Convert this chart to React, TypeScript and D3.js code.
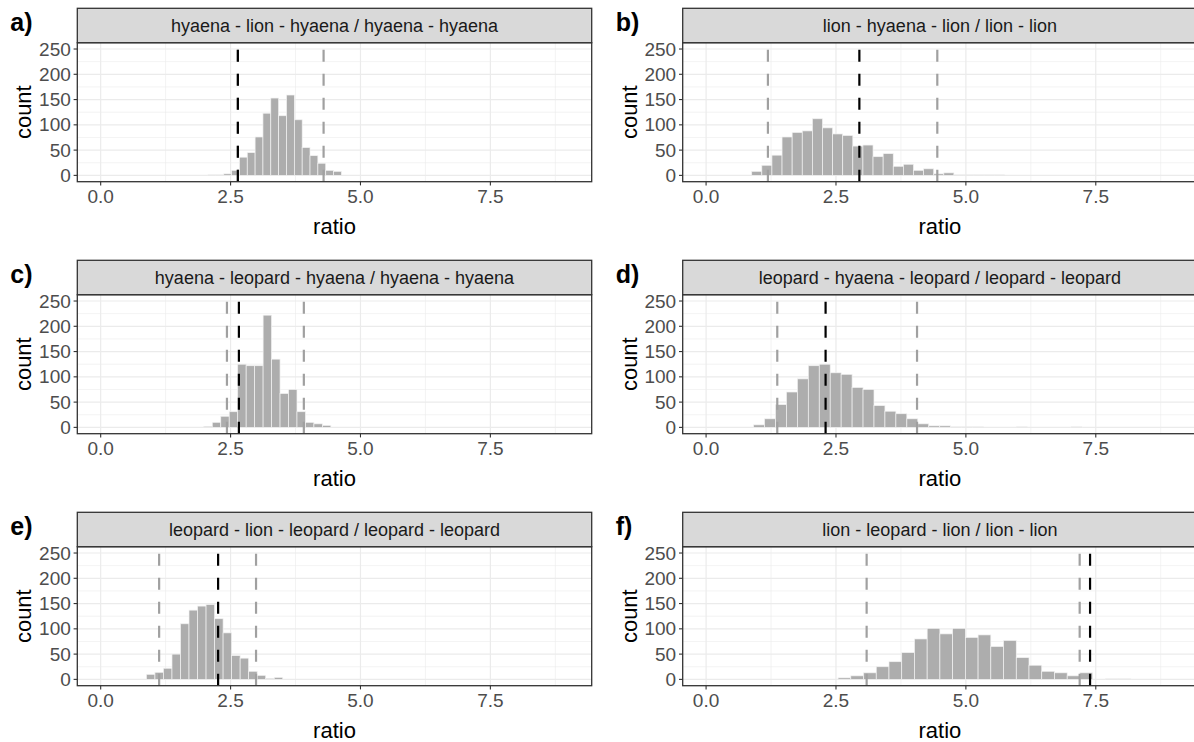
import React from "react";
import * as d3 from "d3";

// ---- data ----
const panelLabels = ["a)", "b)", "c)", "d)", "e)", "f)"];
const stripTitles = [
  "hyaena - lion - hyaena / hyaena - hyaena",
  "lion - hyaena - lion / lion - lion",
  "hyaena - leopard - hyaena / hyaena - hyaena",
  "leopard - hyaena - leopard / leopard - leopard",
  "leopard - lion - leopard / leopard - leopard",
  "lion - leopard - lion / lion - lion",
];
// histogram bins: first bin edge and bin width per panel
const binStart = [2.066, 0.878, 1.985, 0.914, 0.88, 2.54];
const binWidth = [0.151, 0.1946, 0.163, 0.2107, 0.164, 0.245];
const countsA = [1, 1, 3, 10, 36, 45, 76, 123, 153, 118, 159, 110, 55, 39, 24, 10, 8];
const countsB = [8, 20, 40, 76, 85, 88, 112, 94, 82, 79, 58, 60, 37, 43, 18, 22, 10, 13, 3, 5, 1, 1, 1, 1, 1];
const countsC = [2, 10, 22, 31, 125, 122, 122, 222, 135, 67, 75, 31, 10, 7, 4];
const countsD = [5, 17, 45, 70, 96, 122, 125, 108, 105, 79, 75, 43, 32, 27, 17, 7, 3, 3, 1, 1, 1, 0, 0, 0, 1, 0, 0, 0, 0, 1];
const countsE = [10, 14, 22, 50, 110, 137, 145, 148, 120, 92, 47, 42, 16, 8, 2, 4];
const countsF = [3, 7, 13, 25, 35, 53, 80, 101, 90, 101, 83, 88, 65, 77, 43, 28, 16, 13, 7, 13, 0, 1, 1];
const allCounts = [countsA, countsB, countsC, countsD, countsE, countsF];
// reference lines
const observedLine = [2.64, 2.95, 2.66, 2.3, 2.26, 7.39];
const lowerLine = [2.64, 1.19, 2.43, 1.37, 1.125, 3.09];
const upperLine = [4.29, 4.45, 3.91, 4.06, 2.99, 7.19];
// axes
const xMajor = [0, 2.5, 5, 7.5];
const xMinor = [1.25, 3.75, 6.25, 8.75];
const yMajor = [0, 50, 100, 150, 200, 250];
const yMinor = [25, 75, 125, 175, 225];

// ---- layout ----
const W = 1194;
const H = 742;
const colLeft = [77.3, 682.7];
const panelW = 514.4;
const rowTop = [8.3, 260.3, 512.3];
const stripH = 34.4;
const plotH = 139;
const FONT = "'Liberation Sans', Arial, sans-serif";

function Panel({ i }: { i: number }) {
  const col = i % 2;
  const row = Math.floor(i / 2);
  const left = colLeft[col];
  const stripTop = rowTop[row];
  const top = stripTop + stripH;
  const bottom = top + plotH;
  const x = d3.scaleLinear().domain([-0.45, 9.45]).range([left, left + panelW]);
  const y = d3.scaleLinear().domain([-12.5, 262.5]).range([bottom, top]);
  const counts = allCounts[i];
  const bins = counts.map((c, k) => ({
    x0: binStart[i] + k * binWidth[i],
    x1: binStart[i] + (k + 1) * binWidth[i],
    c,
  }));
  const fmtX = d3.format(".1f");
  const dash = "12 12";
  return (
    <g>
      <rect x={left} y={top} width={panelW} height={plotH} fill="white" />
      {xMinor.map((v) => (
        <line key={"xm" + v} x1={x(v)} x2={x(v)} y1={top} y2={bottom} stroke="#ebebeb" strokeWidth={0.6} />
      ))}
      {yMinor.map((v) => (
        <line key={"ym" + v} x1={left} x2={left + panelW} y1={y(v)} y2={y(v)} stroke="#ebebeb" strokeWidth={0.6} />
      ))}
      {xMajor.map((v) => (
        <line key={"xM" + v} x1={x(v)} x2={x(v)} y1={top} y2={bottom} stroke="#ebebeb" strokeWidth={1.2} />
      ))}
      {yMajor.map((v) => (
        <line key={"yM" + v} x1={left} x2={left + panelW} y1={y(v)} y2={y(v)} stroke="#ebebeb" strokeWidth={1.2} />
      ))}
      {bins.map((b, k) => (
        <rect
          key={"b" + k}
          x={x(b.x0)}
          y={y(b.c)}
          width={x(b.x1) - x(b.x0)}
          height={Math.max(0, y(0) - y(b.c))}
          fill="#adadad"
          stroke="#f2f2f2"
          strokeWidth={0.7}
        />
      ))}
      {[lowerLine[i], upperLine[i]].map((v, k) => (
        <line key={"ci" + k} x1={x(v)} x2={x(v)} y1={bottom} y2={top} stroke="#a0a0a0" strokeWidth={2.2} strokeDasharray={dash} />
      ))}
      <line x1={x(observedLine[i])} x2={x(observedLine[i])} y1={bottom} y2={top} stroke="#000" strokeWidth={2.2} strokeDasharray={dash} />
      <rect x={left} y={top} width={panelW} height={plotH} fill="none" stroke="#333333" strokeWidth={1.3} />
      <rect x={left} y={stripTop} width={panelW} height={stripH} fill="#d9d9d9" stroke="#333333" strokeWidth={1.3} />
      <text x={left + panelW / 2} y={stripTop + stripH / 2 + 6.3} textAnchor="middle" fontSize={18} fill="#1a1a1a" fontFamily={FONT}>
        {stripTitles[i]}
      </text>
      {yMajor.map((v) => (
        <g key={"yt" + v}>
          <line x1={left - 3.7} x2={left} y1={y(v)} y2={y(v)} stroke="#333333" strokeWidth={1.1} />
          <text x={left - 6.5} y={y(v) + 6.6} textAnchor="end" fontSize={19} fill="#4d4d4d" fontFamily={FONT}>
            {v}
          </text>
        </g>
      ))}
      {xMajor.map((v) => (
        <g key={"xt" + v}>
          <line x1={x(v)} x2={x(v)} y1={bottom} y2={bottom + 3.7} stroke="#333333" strokeWidth={1.1} />
          <text x={x(v)} y={bottom + 21.3} textAnchor="middle" fontSize={19} fill="#4d4d4d" fontFamily={FONT}>
            {fmtX(v)}
          </text>
        </g>
      ))}
      <text x={left + panelW / 2} y={bottom + 52} textAnchor="middle" fontSize={22} fill="#000" fontFamily={FONT}>
        ratio
      </text>
      <text
        transform={`translate(${left - 46},${top + plotH / 2}) rotate(-90)`}
        textAnchor="middle"
        fontSize={22}
        fill="#000"
        fontFamily={FONT}
      >
        count
      </text>
      <text x={left - 67} y={stripTop + 23} fontSize={25} fontWeight="bold" fill="#000" fontFamily={FONT}>
        {panelLabels[i]}
      </text>
    </g>
  );
}

export default function App() {
  return (
    <svg
      width={W}
      height={H}
      viewBox={`0 0 ${W} ${H}`}
      style={{ position: "absolute", left: 0, top: 0, background: "white" }}
    >
      <rect x={0} y={0} width={W} height={H} fill="white" />
      {panelLabels.map((_, i) => (
        <Panel key={i} i={i} />
      ))}
    </svg>
  );
}
